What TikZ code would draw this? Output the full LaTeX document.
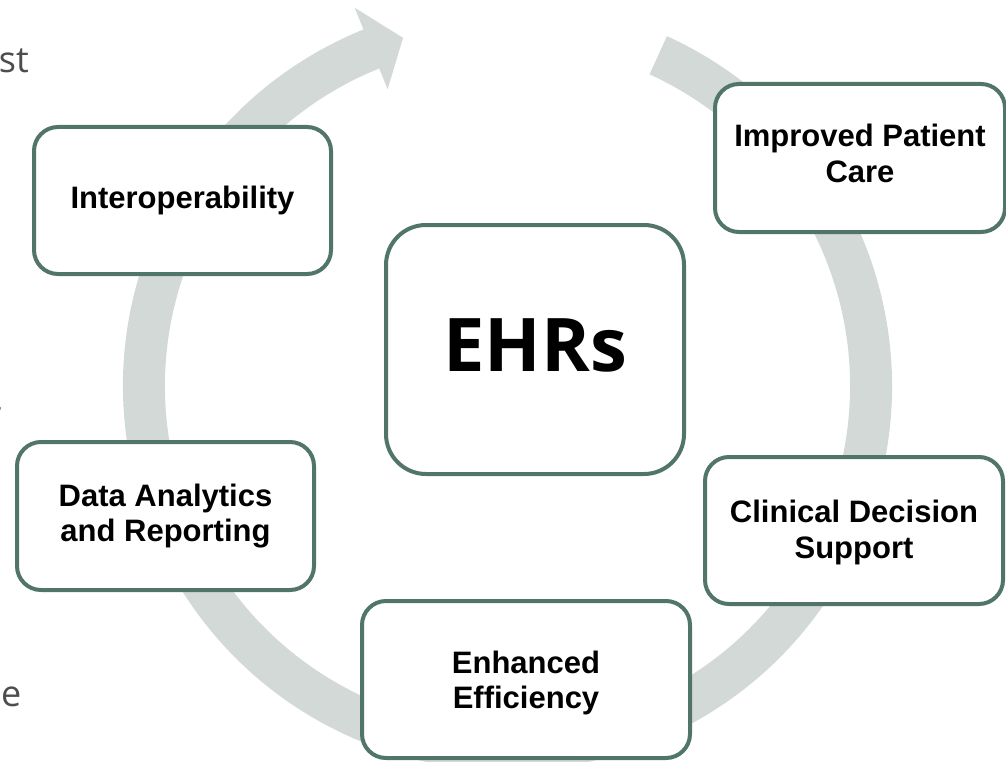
\documentclass[tikz,border=0pt]{standalone}
\usepackage{fontspec}
\setmainfont{Liberation Sans}
\newfontfamily\opensans{Open Sans}
\definecolor{boxc}{HTML}{52756A}
\definecolor{ringc}{HTML}{D3D9D7}
\definecolor{greytext}{HTML}{4D4D4D}
\begin{document}
\begin{tikzpicture}[x=1pt,y=-1pt,
  box/.style={draw=boxc, line width=4pt, fill=white, rounded corners=24pt,
    inner sep=0pt, align=center, font=\fontsize{31}{35.5}\selectfont\bfseries},
  side/.style={inner sep=0pt, text=greytext, font=\opensans\fontsize{36}{40}\selectfont}]
\useasboundingbox (0,0) rectangle (1006,762);
% ring arrow
\fill[ringc, shift={(507.5,386)}]
  (-65.5:384.5) arc[start angle=-65.5, end angle=248, radius=384.5]
  -- (248:408) -- (253.3:363.5) -- (248:320) -- (248:342.5)
  arc[start angle=248, end angle=-65.5, radius=342.5] -- cycle;
% side text fragments
\node[side, anchor=base east] (t1) at (29,73) {st};
\node[side, anchor=base east] (t2) at (2.5,418) {-};
\node[side, anchor=base west] (t3) at (1,706) {e};
% boxes
\node[box, minimum width=297pt, minimum height=147pt] (inter) at (182.5,200.5) {Interoperability};
\node[box, minimum width=290pt, minimum height=148pt] (ipc) at (860,158) {Improved Patient\\Care\rule[-9pt]{0pt}{9pt}};
\node[box, minimum width=298pt, minimum height=147pt] (cds) at (854,530.5) {\rule{0pt}{26pt}Clinical Decision\\Support};
\node[box, minimum width=297pt, minimum height=148pt] (data) at (165.5,516) {Data Analytics\\and Reporting};
\node[box, minimum width=328pt, minimum height=157pt] (eff) at (526,679.5) {\rule{0pt}{29pt}Enhanced\\Efficiency};
\node[box, rounded corners=40pt, minimum width=298pt, minimum height=249pt,
  font=\opensans\fontsize{74}{80}\selectfont\bfseries, text depth=8pt] (ehr) at (535,349.5) {EHRs};
\end{tikzpicture}
\end{document}
